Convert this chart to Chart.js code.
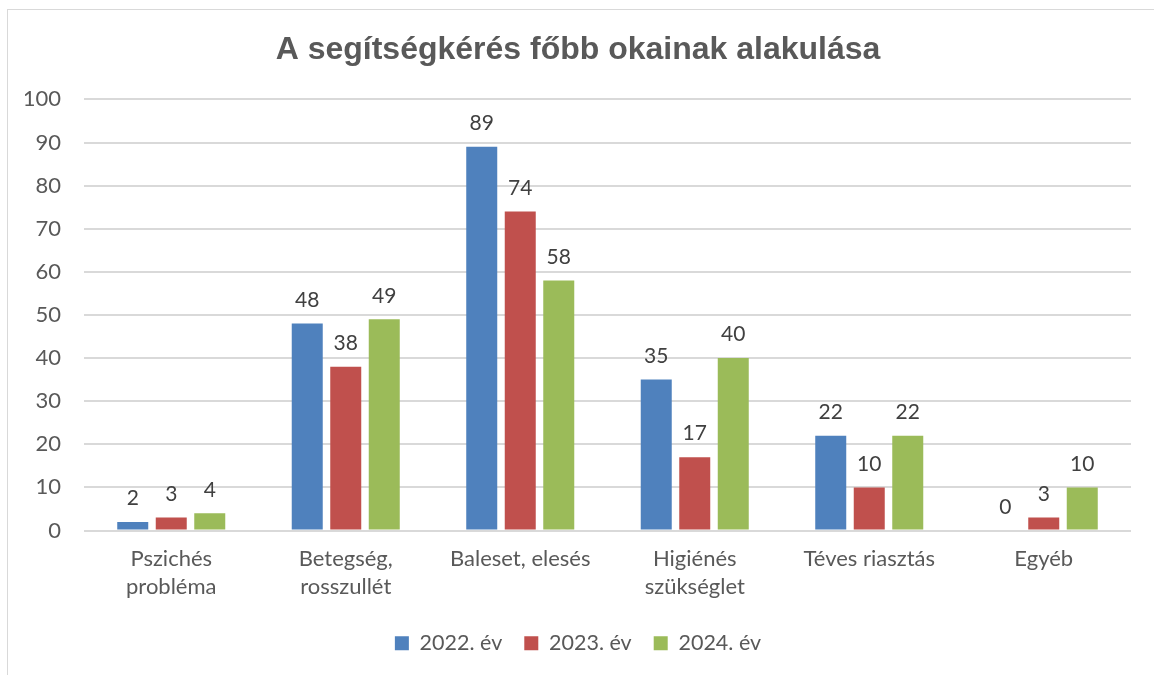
<!DOCTYPE html>
<html>
<head>
<meta charset="utf-8">
<script src="https://cdn.jsdelivr.net/npm/chart.js@4"></script>
<style>
  html, body { margin: 0; padding: 0; overflow: hidden; background: #fff; }
  #frame { position: absolute; left: 7px; top: 9px; width: 1200px; height: 700px; border: 1px solid #d9d9d9; }
  #wrap { position: absolute; left: 0; top: 0; width: 1154px; height: 675px; }
</style>
</head>
<body>
<div id="frame"></div>
<div id="wrap"><canvas id="chart" width="1154" height="675"></canvas></div>
<script>
const categories = [
  ['Pszichés', 'probléma'],
  ['Betegség,', 'rosszullét'],
  'Baleset, elesés',
  ['Higiénés', 'szükséglet'],
  'Téves riasztás',
  'Egyéb'
];
const seriesNames = ['2022. év', '2023. év', '2024. év'];
const values2022 = [2, 48, 89, 35, 22, 0];
const values2023 = [3, 38, 74, 17, 10, 3];
const values2024 = [4, 49, 58, 40, 22, 10];
const colors = ['#4F81BD', '#C0504D', '#9BBB59'];

const labelFont = 'Lato, "Liberation Sans", sans-serif';

// value labels above the bars
const barLabels = {
  id: 'barLabels',
  afterDatasetsDraw(chart) {
    const ctx = chart.ctx;
    ctx.save();
    ctx.font = '21px ' + labelFont;
    ctx.fillStyle = '#404040';
    ctx.textAlign = 'center';
    ctx.textBaseline = 'bottom';
    chart.data.datasets.forEach((ds, i) => {
      chart.getDatasetMeta(i).data.forEach((bar, j) => {
        ctx.fillText(ds.data[j], bar.x, bar.y - 13);
      });
    });
    ctx.restore();
  }
};

const ctx = document.getElementById('chart').getContext('2d');
const chart = new Chart(ctx, {
  type: 'bar',
  data: {
    labels: categories,
    datasets: [
      { label: seriesNames[0], data: values2022, backgroundColor: colors[0] },
      { label: seriesNames[1], data: values2023, backgroundColor: colors[1] },
      { label: seriesNames[2], data: values2024, backgroundColor: colors[2] }
    ]
  },
  options: {
    responsive: false,
    animation: false,
    categoryPercentage: 0.662,
    barPercentage: 0.805,
    layout: { padding: { left: 25, right: 23, top: 0, bottom: 11 } },
    plugins: {
      title: {
        display: true,
        text: 'A segítségkérés főbb okainak alakulása',
        color: '#595959',
        font: { family: '"Liberation Sans", Arial, sans-serif', size: 32, weight: 'bold' },
        padding: { top: 31, bottom: 30 }
      },
      legend: {
        position: 'bottom',
        labels: {
          color: '#595959',
          font: { family: labelFont, size: 21.5 },
          boxWidth: 14,
          boxHeight: 14,
          padding: 22
        }
      },
      tooltip: { enabled: false }
    },
    scales: {
      x: {
        grid: { display: false },
        border: { display: false },
        ticks: {
          color: '#595959',
          font: { family: labelFont, size: 22, lineHeight: 1.3 },
          padding: 6,
          maxRotation: 0
        },
        afterFit(scale) { scale.height = 80; }
      },
      y: {
        min: 0,
        max: 100,
        ticks: {
          stepSize: 10,
          color: '#595959',
          font: { family: labelFont, size: 22 },
          padding: 23
        },
        grid: { color: '#d9d9d9', lineWidth: 2, drawTicks: false },
        border: { display: false },
        afterFit(scale) { scale.width = 59; }
      }
    }
  },
  plugins: [barLabels]
});
</script>
</body>
</html>
